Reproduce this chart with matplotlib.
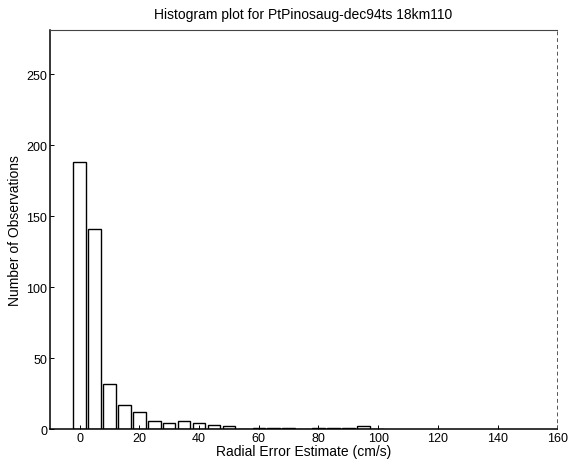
import matplotlib
matplotlib.use("Agg")
import matplotlib.pyplot as plt
import numpy as np

# bin centres (cm/s) and counts
bin_centers = [0, 5, 10, 15, 20, 25, 30, 35, 40, 45, 50, 55, 60, 65, 70,
               75, 80, 85, 90, 95, 100]
counts = [188, 141, 32, 17, 12, 6, 4, 6, 4, 3, 2, 0, 1, 1, 1,
          0, 1, 1, 1, 2, 0]

x_ticks = [0, 20, 40, 60, 80, 100, 120, 140, 160]
y_ticks = [0, 50, 100, 150, 200, 250]

plt.rcParams['font.family'] = ['Liberation Sans', 'DejaVu Sans']
plt.rcParams['font.size'] = 9

fig = plt.figure(figsize=(5.86, 4.64), dpi=100)
ax = fig.add_axes([0.085, 0.073, 0.866, 0.86])

ax.bar(bin_centers, counts, width=4.2, facecolor='white',
       edgecolor='black', linewidth=1.0)

ax.set_xlim(-10, 160)
ax.set_ylim(0, 281)
ax.set_xticks(x_ticks)
ax.set_yticks(y_ticks)
ax.tick_params(direction='in', length=3, width=0.7, colors='black',
               labelsize=9, pad=2)

ax.spines['left'].set_linewidth(1.1)
ax.spines['bottom'].set_linewidth(1.1)
ax.spines['top'].set_linewidth(0.8)
ax.spines['top'].set_color('#444444')
ax.spines['right'].set_linestyle((0, (3, 4)))
ax.spines['right'].set_linewidth(0.7)
ax.spines['right'].set_color('#555555')

ax.set_title('Histogram plot for PtPinosaug-dec94ts 18km110', fontsize=10, pad=9)
ax.set_xlabel('Radial Error Estimate (cm/s)', fontsize=10, labelpad=0)
ax.set_ylabel('Number of Observations', fontsize=10, labelpad=3)

fig.savefig('out.png', dpi=100)
